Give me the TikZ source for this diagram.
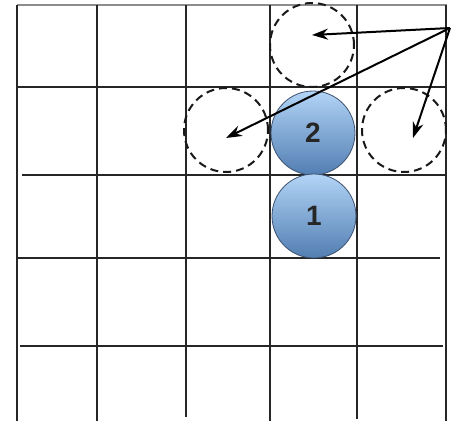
\documentclass[tikz,border=0pt]{standalone}
\usepackage{fontspec}
\setmainfont{Liberation Sans}
\usetikzlibrary{arrows.meta}
\definecolor{balltop}{RGB}{178,212,246}
\definecolor{ballbottom}{RGB}{82,126,178}
\definecolor{ballrim}{RGB}{60,80,110}
\begin{document}
\begin{tikzpicture}[x=1pt,y=-1pt,
  gridline/.style={line width=2.8pt,draw=black!85},
  ghost/.style={circle,draw=black!90,line width=2pt,dash pattern=on 8pt off 5pt,minimum size=84pt,inner sep=0pt},
  ball/.style={circle,draw=ballrim,line width=0.8pt,minimum size=84pt,inner sep=0pt,
    top color=balltop,bottom color=ballbottom,
    font=\fontsize{28}{28}\selectfont\bfseries,text=black!85},
  pointer/.style={line width=2pt,-{Stealth[length=16pt,width=11pt]}}]
\useasboundingbox (0,0) rectangle (451,421);
\fill[white] (0,0) rectangle (451,421);
% grid
\draw[gridline,draw=black!45] (17,5) -- (447,5);
\draw[gridline] (17,87) -- (446,87);
\draw[gridline] (22,175) -- (446,175);
\draw[gridline] (17,258) -- (440,258);
\draw[gridline] (20,346) -- (443,346);
\draw[gridline] (17,5) -- (17,421);
\draw[gridline] (97,5) -- (97,421);
\draw[gridline] (186,5) -- (186,417);
\draw[gridline] (270,5) -- (270,421);
\draw[gridline] (357,5) -- (357,419);
\draw[gridline] (446,5) -- (446,421);
% candidate positions
\node[ghost] (up) at (312,45) {};
\node[ghost] (left) at (226,130) {};
\node[ghost] (right) at (404,130) {};
% placed pieces
\node[ball] (b2) at (313,133) {2};
\node[ball] (b1) at (314,216) {1};
% pointers
\coordinate (src) at (450,28);
\coordinate (tu) at (312,35);
\coordinate (tl) at (226,138);
\coordinate (tr) at (413,138);
\draw[pointer] (src) -- (tu);
\draw[pointer] (src) -- (tl);
\draw[pointer] (src) -- (tr);
\end{tikzpicture}
\end{document}
